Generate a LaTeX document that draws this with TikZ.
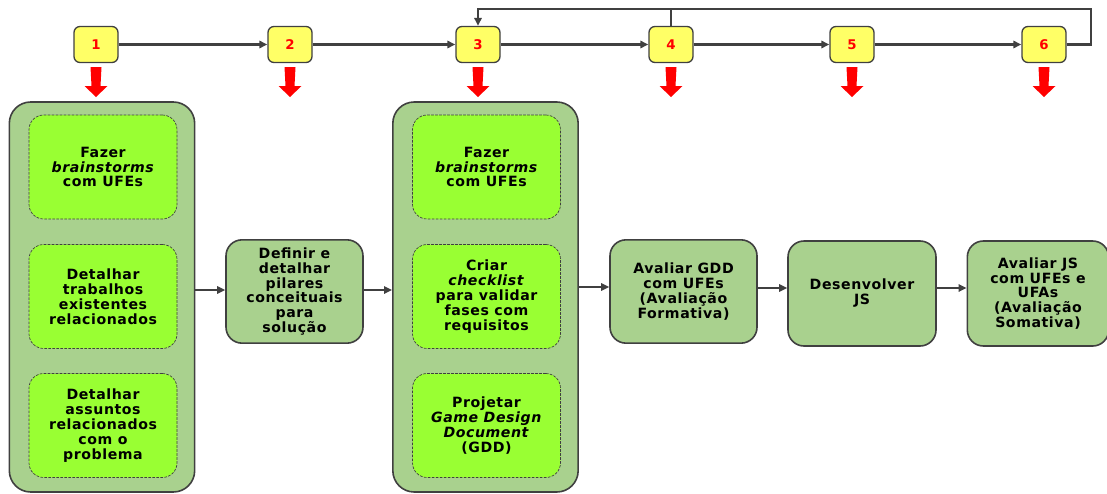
\documentclass[tikz,border=0pt]{standalone}
\usepackage{fontspec}
\setmainfont{DejaVu Sans}[LetterSpace=4]
\usetikzlibrary{arrows.meta}
\definecolor{yfill}{HTML}{FFFF66}
\definecolor{gbig}{HTML}{A9D18E}
\definecolor{gbright}{HTML}{99FF33}
\definecolor{dgray}{HTML}{404040}
\definecolor{rred}{HTML}{FF0000}
\begin{document}
\begin{tikzpicture}[x=0.75pt,y=-0.75pt,
  txt/.style={font=\fontsize{10.6}{11.2}\selectfont\bfseries, align=center, text=black},
  numbox/.style={draw=dgray, line width=1pt, fill=yfill, rounded corners=4.5pt,
     minimum width=33pt, minimum height=27pt, inner sep=0pt,
     font=\fontsize{10}{11}\selectfont\bfseries, text=rred},
  bigbox/.style={draw=dgray, line width=1.2pt, fill=gbig, rounded corners=16pt,
     minimum width=139pt, minimum height=292.5pt, inner sep=0pt},
  innerbox/.style={txt, draw=dgray, dashed, dash pattern=on 2pt off 1pt, line width=0.5pt,
     fill=gbright, rounded corners=11pt, minimum width=111pt, minimum height=78pt, inner sep=0pt},
  stepbox/.style={txt, draw=dgray, line width=1.2pt, fill=gbig, rounded corners=12pt,
     minimum height=77.5pt, inner sep=0pt},
  conn/.style={draw=dgray, line width=1.8pt, -{Triangle[length=6pt,width=5.5pt]}},
  link/.style={draw=dgray, line width=1.8pt},
  redarrow/.style={fill=rred, draw=none}
]
\useasboundingbox (0,0) rectangle (1107,493);

% numbered boxes
\node[numbox] (n1) at (96,44.5) {1};
\node[numbox] (n2) at (290,44.5) {2};
\node[numbox] (n3) at (478,44.5) {3};
\node[numbox] (n4) at (671,44.5) {4};
\node[numbox] (n5) at (852,44.5) {5};
\node[numbox] (n6) at (1044,44.5) {6};

\draw[conn] (n1) -- (n2);
\draw[conn] (n2) -- (n3);
\draw[conn] (n3) -- (n4);
\draw[conn] (n4) -- (n5);
\draw[conn] (n5) -- (n6);
\coordinate (fbR) at (1091,9);
\draw[conn, rounded corners=0pt] (n6.east) -| (fbR) -| (n3.north);
\draw[link] (n4.north) -- (n4.north |- fbR);

% red arrows
\foreach \cx in {96,290,478,671,852,1044}{
  \fill[redarrow] (\cx-5.5,67) -- (\cx+5.5,67) -- (\cx+4.5,86) -- (\cx+11.5,86) -- (\cx,97)
     -- (\cx-11.5,86) -- (\cx-4.5,86) -- cycle;
}

% big group boxes
\node[bigbox] (g1) at (102,297) {};
\node[bigbox] (g2) at (485.5,297) {};

\node[innerbox] (a1) at (103,167) {Fazer\\\textit{brainstorms}\\com UFEs};
\node[innerbox] (a2) at (103,296.5) {Detalhar\\trabalhos\\existentes\\relacionados};
\node[innerbox] (a3) at (103,425.5) {Detalhar\\assuntos\\relacionados\\com o\\problema};

\node[innerbox] (b1) at (486.5,167) {Fazer\\\textit{brainstorms}\\com UFEs};
\node[innerbox] (b2) at (486.5,296.5) {Criar\\\textit{checklist}\\para validar\\fases com\\requisitos};
\node[innerbox] (b3) at (486.5,425.5) {Projetar\\\textit{Game Design}\\\textit{Document}\\(GDD)};

% step boxes
\node[stepbox, minimum width=102.75pt] (def) at (294.5,291.5) {Definir e\\detalhar\\pilares\\conceituais\\para\\solução};
\node[stepbox, minimum width=110.25pt] (agdd) at (683.5,291.5) {Avaliar GDD\\com UFEs\\(Avaliação\\Formativa)};
\node[stepbox, minimum width=111pt, minimum height=78.75pt] (dev) at (862,293.5) {Desenvolver\\JS};
\node[stepbox, minimum width=106pt, minimum height=78.75pt] (ajs) at (1038,293.5) {Avaliar JS\\com UFEs e\\UFAs\\(Avaliação\\Somativa)};

\draw[conn] (g1.east |- 0,290) -- (def.west |- 0,290);
\draw[conn] (def.east |- 0,290) -- (g2.west |- 0,290);
\draw[conn] (g2.east |- 0,287) -- (agdd.west |- 0,287);
\draw[conn] (agdd.east |- 0,288) -- (dev.west |- 0,288);
\draw[conn] (dev.east |- 0,288) -- (ajs.west |- 0,288);
\end{tikzpicture}
\end{document}
